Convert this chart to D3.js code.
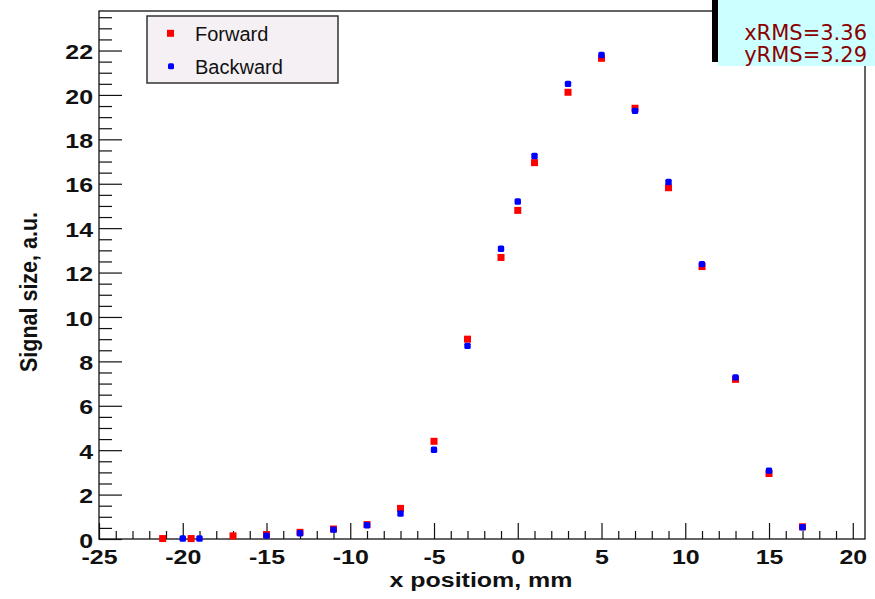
<!DOCTYPE html>
<html>
<head>
<meta charset="utf-8">
<script src="https://cdn.jsdelivr.net/npm/d3@7"></script>
<style>
  body { margin: 0; background: #fff; }
  svg { display: block; }
  .axis text { font-family: "Liberation Sans", Arial, sans-serif; font-weight: bold; font-size: 19.5px; fill: #111; }
  .axis line { stroke: #111; stroke-width: 1.2; }
</style>
</head>
<body>
<div id="plot"></div>
<script>
const fwdX = [-21.2, -19.5, -17, -15, -13, -11, -9, -7, -5, -3, -1, 0, 1, 3, 5, 7, 9, 11, 13, 15, 17];
const fwdY = [0.02, 0.02, 0.14, 0.2, 0.3, 0.45, 0.65, 1.38, 4.4, 9.0, 12.68, 14.8, 16.95, 20.12, 21.65, 19.4, 15.82, 12.27, 7.19, 2.95, 0.55];
const bwdX = [-20, -19, -15, -13, -11, -9, -7, -5, -3, -1, 0, 1, 3, 5, 7, 9, 11, 13, 15, 17];
const bwdY = [0.02, 0.02, 0.15, 0.26, 0.42, 0.62, 1.15, 4.02, 8.7, 13.07, 15.2, 17.25, 20.5, 21.8, 19.28, 16.08, 12.38, 7.28, 3.08, 0.53];

const xMajor = [-25, -20, -15, -10, -5, 0, 5, 10, 15, 20];
const yMajor = [0, 2, 4, 6, 8, 10, 12, 14, 16, 18, 20, 22];
const legendLabels = ["Forward", "Backward"];
const statsLines = ["xRMS=3.36", "yRMS=3.29"];

const fwdColor = "#ff0000",
      bwdColor = "#0000ff",
      stretch = 1.28;

const margin = {top: 11, right: 10, bottom: 60, left: 99},
      width = 865 - margin.left,
      height = 539 - margin.top;

const svg = d3.select("#plot")
  .append("svg")
    .attr("width", 875)
    .attr("height", 599);

const g = svg.append("g")
    .attr("transform", "translate(" + margin.left + "," + margin.top + ")");

const xScale = d3.scaleLinear()
        .domain([-25, 20.73])
        .range([0, width]),
      yScale = d3.scaleLinear()
        .domain([0, 23.78])
        .range([height, 0]);

const xMinor = d3.range(-25, 21, 1).filter(d => !xMajor.includes(d)),
      yMinor = d3.range(0, 23.78, 0.5).filter(d => !yMajor.includes(d));

// minor ticks first
g.append("g")
  .attr("class", "axis")
  .attr("transform", "translate(0," + height + ")")
  .call(d3.axisBottom(xScale).tickValues(xMinor).tickSize(-8).tickSizeOuter(0).tickFormat(""))
  .call(a => a.select(".domain").remove());

g.append("g")
  .attr("class", "axis")
  .call(d3.axisLeft(yScale).tickValues(yMinor).tickSize(-13).tickSizeOuter(0).tickFormat(""))
  .call(a => a.select(".domain").remove());

// major ticks + labels
g.append("g")
  .attr("class", "axis")
  .attr("transform", "translate(0," + height + ")")
  .call(d3.axisBottom(xScale).tickValues(xMajor).tickSize(-16).tickSizeOuter(0).tickFormat(d => String(d)))
  .call(a => a.select(".domain").remove())
  .call(a => a.selectAll("text")
    .attr("y", 25)
    .attr("dy", null)
    .attr("transform", "scale(" + stretch + ",1)"));

g.append("g")
  .attr("class", "axis")
  .call(d3.axisLeft(yScale).tickValues(yMajor).tickSize(-23).tickSizeOuter(0).tickFormat(d => String(d)))
  .call(a => a.select(".domain").remove())
  .call(a => a.selectAll("text")
    .attr("x", -6 / stretch)
    .attr("dy", "0.42em")
    .attr("transform", "scale(" + stretch + ",1)"));

// frame
g.append("rect")
  .attr("x", 0)
  .attr("y", 0)
  .attr("width", width)
  .attr("height", height)
  .attr("fill", "none")
  .attr("stroke", "#111")
  .attr("stroke-width", 1.3);

// axis titles
g.append("text")
  .attr("transform", "translate(" + (481 - margin.left) + "," + (587 - margin.top) + ") scale(" + stretch + ",1)")
  .attr("text-anchor", "middle")
  .style("font-family", "'Liberation Sans', Arial, sans-serif")
  .style("font-weight", "bold")
  .style("font-size", "19.5px")
  .attr("fill", "#111")
  .text("x positiom, mm");

g.append("text")
  .attr("transform", "translate(" + (37 - margin.left) + "," + (292 - margin.top) + ") rotate(-90) scale(1,1.12)")
  .attr("text-anchor", "middle")
  .style("font-family", "'Liberation Sans', Arial, sans-serif")
  .style("font-weight", "bold")
  .style("font-size", "21.5px")
  .attr("fill", "#111")
  .text("Signal size, a.u.");

// points
g.append("g")
  .selectAll("rect")
  .data(fwdX.map((x, i) => [x, fwdY[i]]))
  .join("rect")
    .attr("x", d => xScale(d[0]) - 3.5)
    .attr("y", d => yScale(d[1]) - 3.5)
    .attr("width", 7)
    .attr("height", 7)
    .attr("fill", fwdColor);

g.append("g")
  .selectAll("rect")
  .data(bwdX.map((x, i) => [x, bwdY[i]]))
  .join("rect")
    .attr("x", d => xScale(d[0]) - 3.2)
    .attr("y", d => yScale(d[1]) - 3.2)
    .attr("width", 6.4)
    .attr("height", 6.4)
    .attr("rx", 1.5)
    .attr("fill", bwdColor);

// legend
const legend = svg.append("g");
legend.append("rect")
  .attr("x", 147)
  .attr("y", 16)
  .attr("width", 191)
  .attr("height", 67)
  .attr("fill", "#f5f0f4")
  .attr("stroke", "#333")
  .attr("stroke-width", 1.5);

legendLabels.forEach((label, i) => {
  const cy = 33.3 + i * 33;
  if (i == 0) {
    legend.append("rect")
      .attr("x", 170.5 - 3.5).attr("y", cy - 3.5)
      .attr("width", 7).attr("height", 7)
      .attr("fill", fwdColor);
  } else {
    legend.append("rect")
      .attr("x", 171 - 3).attr("y", cy - 3)
      .attr("width", 6).attr("height", 6)
      .attr("rx", 1.5)
      .attr("fill", bwdColor);
  }
  legend.append("text")
    .attr("x", 195)
    .attr("y", cy + 8)
    .style("font-family", "'Liberation Sans', Arial, sans-serif")
    .style("font-size", "20px")
    .attr("fill", "#111")
    .text(label);
});

// stats box with shadow
svg.append("rect")
  .attr("x", 712)
  .attr("y", 0)
  .attr("width", 160)
  .attr("height", 62)
  .attr("fill", "#000");
svg.append("rect")
  .attr("x", 718)
  .attr("y", 0)
  .attr("width", 157)
  .attr("height", 66)
  .attr("fill", "#ccffff");

statsLines.forEach((line, i) => {
  svg.append("text")
    .attr("x", 867)
    .attr("y", 40 + i * 22)
    .attr("text-anchor", "end")
    .style("font-family", "'DejaVu Sans', sans-serif")
    .style("font-size", "21px")
    .attr("fill", "#8b0000")
    .text(line);
});
</script>
</body>
</html>
